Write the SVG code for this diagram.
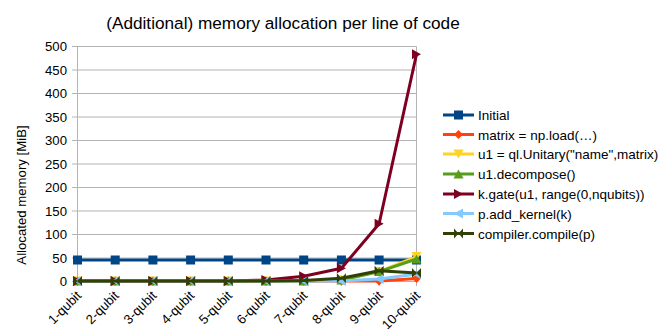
<svg xmlns="http://www.w3.org/2000/svg" width="661" height="329" viewBox="0 0 661 329">
  <style>
    text { font-family: "Liberation Sans", Arial, sans-serif; fill: #000; }
    .title { font-size: 17.2px; text-anchor: middle; }
    .ytick { font-size: 13.2px; text-anchor: end; }
    .xtick { font-size: 13.2px; text-anchor: end; }
    .leg { font-size: 13.5px; }
    .grid { stroke: #b3b3b3; stroke-width: 1; fill: none; }
    .series { fill: none; stroke-width: 3; stroke-linejoin: round; }
  </style>
  <defs>
    <rect id="m-square" x="-4.5" y="-4.5" width="9" height="9"/>
    <polygon id="m-diamond" points="0,-4.5 4.5,0 0,4.5 -4.5,0"/>
    <polygon id="m-down" points="-5,-4.5 5,-4.5 0,4.5"/>
    <polygon id="m-up" points="-5,4.5 5,4.5 0,-4.5"/>
    <polygon id="m-right" points="-4.5,-5 4.5,0 -4.5,5"/>
    <polygon id="m-left" points="4.5,-5 -4.5,0 4.5,5"/>
    <g id="m-bow">
      <polygon points="-4.5,-5 0,0 -4.5,5"/>
      <polygon points="4.5,-5 0,0 4.5,5"/>
    </g>
  </defs>

  <!-- title -->
  <text class="title" x="283" y="29">(Additional) memory allocation per line of code</text>

  <!-- axes and grid -->
  <g id="axes">
    <path class="grid" d="M77 46.5H416.5M77 70H416.5M77 93.5H416.5M77 117H416.5M77 140.5H416.5M77 164H416.5M77 187.5H416.5M77 211H416.5M77 234.5H416.5M77 258H416.5"/>
    <path class="grid" d="M416.5 46.5V281.5"/>
    <path class="grid" d="M77.5 46.5V281.5M72 281.5H416.5"/>
    <path class="grid" d="M72 46.5H77M72 70H77M72 93.5H77M72 117H77M72 140.5H77M72 164H77M72 187.5H77M72 211H77M72 234.5H77M72 258H77"/>
    <path class="grid" d="M77.5 281.5V286M115.2 281.5V286M152.9 281.5V286M190.6 281.5V286M228.3 281.5V286M266 281.5V286M303.7 281.5V286M341.4 281.5V286M379.1 281.5V286M416.5 281.5V286"/>
    <g>
      <text class="ytick" x="67" y="51">500</text>
      <text class="ytick" x="67" y="74.5">450</text>
      <text class="ytick" x="67" y="98">400</text>
      <text class="ytick" x="67" y="121.5">350</text>
      <text class="ytick" x="67" y="145">300</text>
      <text class="ytick" x="67" y="168.5">250</text>
      <text class="ytick" x="67" y="192">200</text>
      <text class="ytick" x="67" y="215.5">150</text>
      <text class="ytick" x="67" y="239">100</text>
      <text class="ytick" x="67" y="262.5">50</text>
      <text class="ytick" x="67" y="286">0</text>
    </g>
    <text class="ytick" transform="translate(26 195) rotate(-90)" style="text-anchor: middle">Allocated memory [MiB]</text>
    <g>
      <text class="xtick" transform="translate(82 296.5) rotate(-45)">1-qubit</text>
      <text class="xtick" transform="translate(119.7 296.5) rotate(-45)">2-qubit</text>
      <text class="xtick" transform="translate(157.4 296.5) rotate(-45)">3-qubit</text>
      <text class="xtick" transform="translate(195.1 296.5) rotate(-45)">4-qubit</text>
      <text class="xtick" transform="translate(232.8 296.5) rotate(-45)">5-qubit</text>
      <text class="xtick" transform="translate(270.5 296.5) rotate(-45)">6-qubit</text>
      <text class="xtick" transform="translate(308.2 296.5) rotate(-45)">7-qubit</text>
      <text class="xtick" transform="translate(345.9 296.5) rotate(-45)">8-qubit</text>
      <text class="xtick" transform="translate(383.6 296.5) rotate(-45)">9-qubit</text>
      <text class="xtick" transform="translate(421 296.5) rotate(-45)">10-qubit</text>
    </g>
  </g>

  <!-- data series -->
  <g id="connectors">
    <!-- Initial -->
    <g id="s-initial" fill="#004586">
      <polyline class="series" stroke="#004586" points="77.5,260 115.2,260 152.9,260 190.6,260 228.3,260 266,260 303.7,260 341.4,260 379.1,260 416.5,260"/>
      <use href="#m-square" x="77.5" y="260"/><use href="#m-square" x="115.2" y="260"/><use href="#m-square" x="152.9" y="260"/><use href="#m-square" x="190.6" y="260"/><use href="#m-square" x="228.3" y="260"/><use href="#m-square" x="266" y="260"/><use href="#m-square" x="303.7" y="260"/><use href="#m-square" x="341.4" y="260"/><use href="#m-square" x="379.1" y="260"/><use href="#m-square" x="416.5" y="260"/>
    </g>
    <!-- matrix = np.load -->
    <g id="s-load" fill="#ff420e">
      <polyline class="series" stroke="#ff420e" points="77.5,281 115.2,281 152.9,281 190.6,281 228.3,281 266,281 303.7,281 341.4,281 379.1,281 416.5,278.5"/>
      <use href="#m-diamond" x="77.5" y="281"/><use href="#m-diamond" x="115.2" y="281"/><use href="#m-diamond" x="152.9" y="281"/><use href="#m-diamond" x="190.6" y="281"/><use href="#m-diamond" x="228.3" y="281"/><use href="#m-diamond" x="266" y="281"/><use href="#m-diamond" x="303.7" y="281"/><use href="#m-diamond" x="341.4" y="281"/><use href="#m-diamond" x="379.1" y="281"/><use href="#m-diamond" x="416.5" y="278.5"/>
    </g>
    <!-- u1 = ql.Unitary -->
    <g id="s-unitary" fill="#ffd320">
      <polyline class="series" stroke="#ffd320" points="77.5,281 115.2,281 152.9,281 190.6,281 228.3,281 266,281 303.7,281 341.4,280 379.1,271.6 416.5,256.6"/>
      <use href="#m-down" x="77.5" y="281"/><use href="#m-down" x="115.2" y="281"/><use href="#m-down" x="152.9" y="281"/><use href="#m-down" x="190.6" y="281"/><use href="#m-down" x="228.3" y="281"/><use href="#m-down" x="266" y="281"/><use href="#m-down" x="303.7" y="281"/><use href="#m-down" x="341.4" y="280"/><use href="#m-down" x="379.1" y="271.6"/><use href="#m-down" x="416.5" y="256.6"/>
    </g>
    <!-- u1.decompose -->
    <g id="s-decompose" fill="#579d1c">
      <polyline class="series" stroke="#579d1c" points="77.5,281 115.2,281 152.9,281 190.6,281 228.3,281 266,281 303.7,281 341.4,280 379.1,271.6 416.5,259"/>
      <use href="#m-up" x="77.5" y="281"/><use href="#m-up" x="115.2" y="281"/><use href="#m-up" x="152.9" y="281"/><use href="#m-up" x="190.6" y="281"/><use href="#m-up" x="228.3" y="281"/><use href="#m-up" x="266" y="281"/><use href="#m-up" x="303.7" y="281"/><use href="#m-up" x="341.4" y="280"/><use href="#m-up" x="379.1" y="271.6"/><use href="#m-up" x="416.5" y="259"/>
    </g>
    <!-- k.gate -->
    <g id="s-gate" fill="#7e0021">
      <polyline class="series" stroke="#7e0021" points="77.5,281 115.2,281 152.9,281 190.6,281 228.3,281 266,280 303.7,276.3 341.4,268.3 379.1,223.7 416.5,54.3"/>
      <use href="#m-right" x="77.5" y="281"/><use href="#m-right" x="115.2" y="281"/><use href="#m-right" x="152.9" y="281"/><use href="#m-right" x="190.6" y="281"/><use href="#m-right" x="228.3" y="281"/><use href="#m-right" x="266" y="280"/><use href="#m-right" x="303.7" y="276.3"/><use href="#m-right" x="341.4" y="268.3"/><use href="#m-right" x="379.1" y="223.7"/><use href="#m-right" x="416.5" y="54.3"/>
    </g>
    <!-- p.add_kernel -->
    <g id="s-kernel" fill="#83caff">
      <polyline class="series" stroke="#83caff" points="77.5,281 115.2,281 152.9,281 190.6,281 228.3,281 266,281 303.7,281 341.4,281 379.1,279 416.5,274"/>
      <use href="#m-left" x="77.5" y="281"/><use href="#m-left" x="115.2" y="281"/><use href="#m-left" x="152.9" y="281"/><use href="#m-left" x="190.6" y="281"/><use href="#m-left" x="228.3" y="281"/><use href="#m-left" x="266" y="281"/><use href="#m-left" x="303.7" y="281"/><use href="#m-left" x="341.4" y="281"/><use href="#m-left" x="379.1" y="279"/><use href="#m-left" x="416.5" y="274"/>
    </g>
    <!-- compiler.compile -->
    <g id="s-compile" fill="#314004">
      <polyline class="series" stroke="#314004" points="77.5,281 115.2,281 152.9,281 190.6,281 228.3,281 266,281 303.7,280.5 341.4,278.2 379.1,270.7 416.5,273"/>
      <use href="#m-bow" x="77.5" y="281"/><use href="#m-bow" x="115.2" y="281"/><use href="#m-bow" x="152.9" y="281"/><use href="#m-bow" x="190.6" y="281"/><use href="#m-bow" x="228.3" y="281"/><use href="#m-bow" x="266" y="281"/><use href="#m-bow" x="303.7" y="280.5"/><use href="#m-bow" x="341.4" y="278.2"/><use href="#m-bow" x="379.1" y="270.7"/><use href="#m-bow" x="416.5" y="273"/>
    </g>
  </g>

  <!-- legend -->
  <g id="legend">
    <g id="leg-initial" fill="#004586">
      <path d="M443 115H474" stroke="#004586" stroke-width="3"/>
      <use href="#m-square" x="458.5" y="115"/>
      <text class="leg" x="478" y="120">Initial</text>
    </g>
    <g id="leg-load" fill="#ff420e">
      <path d="M443 134.5H474" stroke="#ff420e" stroke-width="3"/>
      <use href="#m-diamond" x="458.5" y="134.5"/>
      <text class="leg" x="478" y="139.5">matrix = np.load(…)</text>
    </g>
    <g id="leg-unitary" fill="#ffd320">
      <path d="M443 154H474" stroke="#ffd320" stroke-width="3"/>
      <use href="#m-down" x="458.5" y="154"/>
      <text class="leg" x="478" y="159">u1 = ql.Unitary("name",matrix)</text>
    </g>
    <g id="leg-decompose" fill="#579d1c">
      <path d="M443 174H474" stroke="#579d1c" stroke-width="3"/>
      <use href="#m-up" x="458.5" y="174"/>
      <text class="leg" x="478" y="179">u1.decompose()</text>
    </g>
    <g id="leg-gate" fill="#7e0021">
      <path d="M443 194H474" stroke="#7e0021" stroke-width="3"/>
      <use href="#m-right" x="458.5" y="194"/>
      <text class="leg" x="478" y="199">k.gate(u1, range(0,nqubits))</text>
    </g>
    <g id="leg-kernel" fill="#83caff">
      <path d="M443 213.5H474" stroke="#83caff" stroke-width="3"/>
      <use href="#m-left" x="458.5" y="213.5"/>
      <text class="leg" x="478" y="218.5">p.add_kernel(k)</text>
    </g>
    <g id="leg-compile" fill="#314004">
      <path d="M443 233.5H474" stroke="#314004" stroke-width="3"/>
      <use href="#m-bow" x="458.5" y="233.5"/>
      <text class="leg" x="478" y="238.5">compiler.compile(p)</text>
    </g>
  </g>
</svg>
